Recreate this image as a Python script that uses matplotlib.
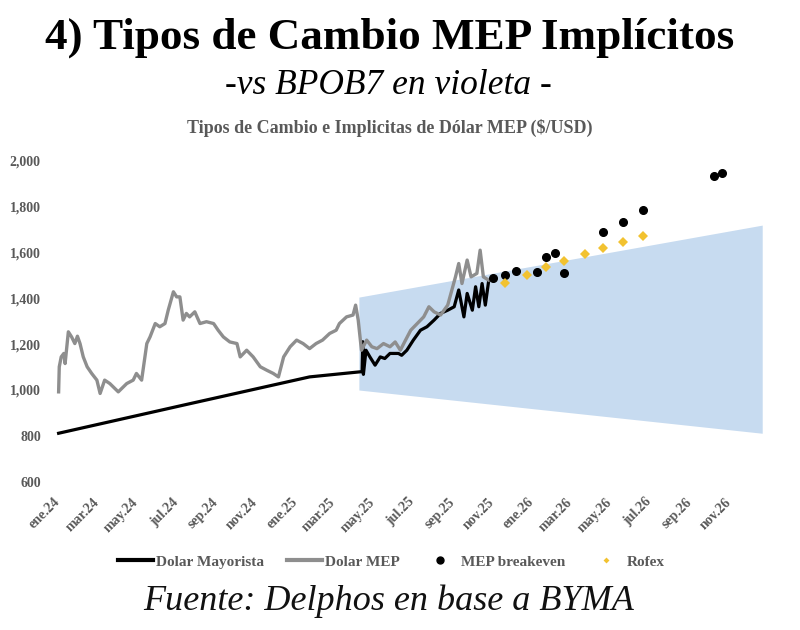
import pandas as pd
import matplotlib.pyplot as plt
from matplotlib.lines import Line2D
from matplotlib.ticker import FuncFormatter

plt.rcParams["font.family"] = ["Liberation Serif", "DejaVu Serif"]

# Dolar MEP (gris)
mep_dates = [
    "2024-01-02", "2024-01-03", "2024-01-06", "2024-01-10", "2024-01-12", "2024-01-17",
    "2024-01-22", "2024-01-27", "2024-01-31", "2024-02-04", "2024-02-09", "2024-02-15",
    "2024-02-22", "2024-03-01", "2024-03-06", "2024-03-13", "2024-03-21", "2024-04-03",
    "2024-04-16", "2024-04-26", "2024-05-01", "2024-05-09", "2024-05-17", "2024-05-22",
    "2024-05-30", "2024-06-06", "2024-06-14", "2024-06-19", "2024-06-27", "2024-07-02",
    "2024-07-07", "2024-07-12", "2024-07-17", "2024-07-22", "2024-07-30", "2024-08-07",
    "2024-08-17", "2024-08-28", "2024-09-04", "2024-09-12", "2024-09-22", "2024-10-03",
    "2024-10-08", "2024-10-18", "2024-10-28", "2024-11-08", "2024-11-18", "2024-11-28",
    "2024-12-06", "2024-12-14", "2024-12-24", "2025-01-03", "2025-01-13", "2025-01-23",
    "2025-02-02", "2025-02-12", "2025-02-23", "2025-03-05", "2025-03-10", "2025-03-21",
    "2025-03-31", "2025-04-04", "2025-04-08", "2025-04-13", "2025-04-21", "2025-04-29",
    "2025-05-07", "2025-05-17", "2025-05-27", "2025-06-04", "2025-06-12", "2025-06-20",
    "2025-06-28", "2025-07-08", "2025-07-18", "2025-07-26", "2025-08-03", "2025-08-13",
    "2025-08-24", "2025-09-05", "2025-09-10", "2025-09-15", "2025-09-23", "2025-09-29",
    "2025-10-08", "2025-10-13", "2025-10-18", "2025-10-26",
]
mep_values = [
    992, 1101, 1144, 1159, 1115, 1253,
    1231, 1202, 1234, 1202, 1144, 1101,
    1072, 1043, 985, 1043, 1028, 992,
    1028, 1043, 1072, 1043, 1202, 1231,
    1289, 1275, 1289, 1347, 1427, 1405,
    1405, 1304, 1333, 1318, 1340, 1289,
    1297, 1289, 1260, 1231, 1209, 1202,
    1144, 1173, 1144, 1101, 1086, 1072,
    1057, 1144, 1188, 1217, 1202, 1180,
    1202, 1217, 1246, 1260, 1289, 1318,
    1326, 1369, 1304, 1173, 1217, 1188,
    1180, 1202, 1188, 1209, 1173, 1217,
    1260, 1289, 1318, 1362, 1340, 1326,
    1369, 1492, 1550, 1463, 1565, 1492,
    1507, 1608, 1492, 1478,
]

# Dolar Mayorista (negro)
may_dates = [
    "2024-01-02", "2024-07-12", "2025-01-23", "2025-04-14", "2025-04-15", "2025-04-16",
    "2025-04-20", "2025-04-26", "2025-05-04", "2025-05-12", "2025-05-19", "2025-05-27",
    "2025-06-09", "2025-06-14", "2025-06-22", "2025-07-02", "2025-07-13", "2025-07-23",
    "2025-08-03", "2025-08-13", "2025-08-24", "2025-09-03", "2025-09-10", "2025-09-18",
    "2025-09-23", "2025-10-01", "2025-10-06", "2025-10-11", "2025-10-16", "2025-10-21",
    "2025-10-26",
]
may_values = [
    812, 934, 1057, 1080, 1210, 1068,
    1173, 1144, 1108, 1144, 1137, 1159,
    1159, 1151, 1173, 1217, 1260, 1275,
    1304, 1333, 1347, 1362, 1435, 1318,
    1420, 1347, 1449, 1362, 1463, 1369,
    1471,
]

# MEP breakeven (puntos negros)
be_dates = [
    "2025-11-02", "2025-11-20", "2025-12-08", "2026-01-09", "2026-01-23", "2026-02-06",
    "2026-02-20", "2026-04-21", "2026-05-21", "2026-06-21", "2026-10-08", "2026-10-21",
]
be_values = [1485, 1500, 1518, 1514, 1579, 1597, 1510, 1687, 1732, 1782, 1930, 1945]

# Rofex (amarillo)
rofex_dates = [
    "2025-11-20", "2025-12-24", "2026-01-23", "2026-02-20",
    "2026-03-24", "2026-04-21", "2026-05-21", "2026-06-21",
]
rofex_values = [1466, 1502, 1533, 1562, 1590, 1618, 1642, 1669]

# banda cambiaria
band_dates = ["2025-04-09", "2026-12-22"]
band_top = [1404, 1717]
band_bottom = [1000, 812]

tick_dates = pd.date_range("2024-01-01", "2026-11-01", freq="2MS")
month_names = {1: "ene", 3: "mar", 5: "may", 7: "jul", 9: "sep", 11: "nov"}
tick_labels = [f"{month_names[d.month]}.{d.strftime('%y')}" for d in tick_dates]

GRAY_TXT = "#595959"
MEP_GRAY = "#8e8e8e"
YELLOW = "#f2c230"

fig = plt.figure(figsize=(8, 6.3), dpi=100)
ax = fig.add_axes([0.05625, 0.2349, 0.90625, 0.5111])

ax.fill_between(pd.to_datetime(band_dates), band_bottom, band_top, color="#c7dbf0", lw=0, zorder=1)
ax.plot(pd.to_datetime(may_dates), may_values, color="black", lw=2.3, zorder=2)
ax.plot(pd.to_datetime(mep_dates), mep_values, color=MEP_GRAY, lw=2.4, zorder=3)
ax.plot(pd.to_datetime(be_dates), be_values, "o", color="black", ms=5.5, zorder=4)
ax.plot(pd.to_datetime(rofex_dates), rofex_values, "D", color=YELLOW, ms=5, mew=0, zorder=4)

ax.set_xlim(pd.Timestamp("2023-12-12"), pd.Timestamp("2027-01-03"))
ax.set_ylim(600, 2000)
ax.set_yticks(range(600, 2001, 200))
ax.yaxis.set_major_formatter(FuncFormatter(lambda v, p: f"{int(v):,}"))
ax.set_xticks(tick_dates)
ax.set_xticklabels(tick_labels, rotation=45, ha="right", va="center", rotation_mode="anchor")

for s in ax.spines.values():
    s.set_visible(False)
ax.tick_params(axis="y", length=0, pad=3, labelsize=10, labelcolor=GRAY_TXT)
ax.tick_params(axis="x", length=0, pad=13, labelsize=10, labelcolor=GRAY_TXT)
for lbl in ax.get_xticklabels() + ax.get_yticklabels():
    lbl.set_fontweight("bold")

handles = [
    Line2D([], [], color="black", lw=3),
    Line2D([], [], color=MEP_GRAY, lw=3),
    Line2D([], [], marker="o", color="black", lw=0, ms=5),
    Line2D([], [], marker="D", color=YELLOW, lw=0, ms=3, mew=0),
]
labels = ["Dolar Mayorista", "Dolar MEP", "MEP breakeven", "Rofex"]
leg = fig.legend(handles, labels, loc="center", bbox_to_anchor=(0.489, 0.108), ncol=4,
                 frameon=False, handlelength=2.3, handletextpad=0.2, columnspacing=1.5,
                 prop={"weight": "bold", "size": 11})
for t in leg.get_texts():
    t.set_color(GRAY_TXT)

fig.text(0.4875, 1 - 38 / 630, "4) Tipos de Cambio MEP Implícitos", ha="center", va="center",
         fontsize=32.5, fontweight="bold")
fig.text(0.486, 1 - 86 / 630, "-vs BPOB7 en violeta -", ha="center", va="center",
         fontsize=25.5, style="italic")
fig.text(0.4875, 1 - 128 / 630, "Tipos de Cambio e Implicitas de Dólar MEP ($/USD)",
         ha="center", va="center", fontsize=13, fontweight="bold", color=GRAY_TXT)
fig.text(0.486, 1 - 601 / 630, "Fuente: Delphos en base a BYMA", ha="center", va="center",
         fontsize=26, style="italic", color="#111111")

fig.savefig("out.png", dpi=100)
